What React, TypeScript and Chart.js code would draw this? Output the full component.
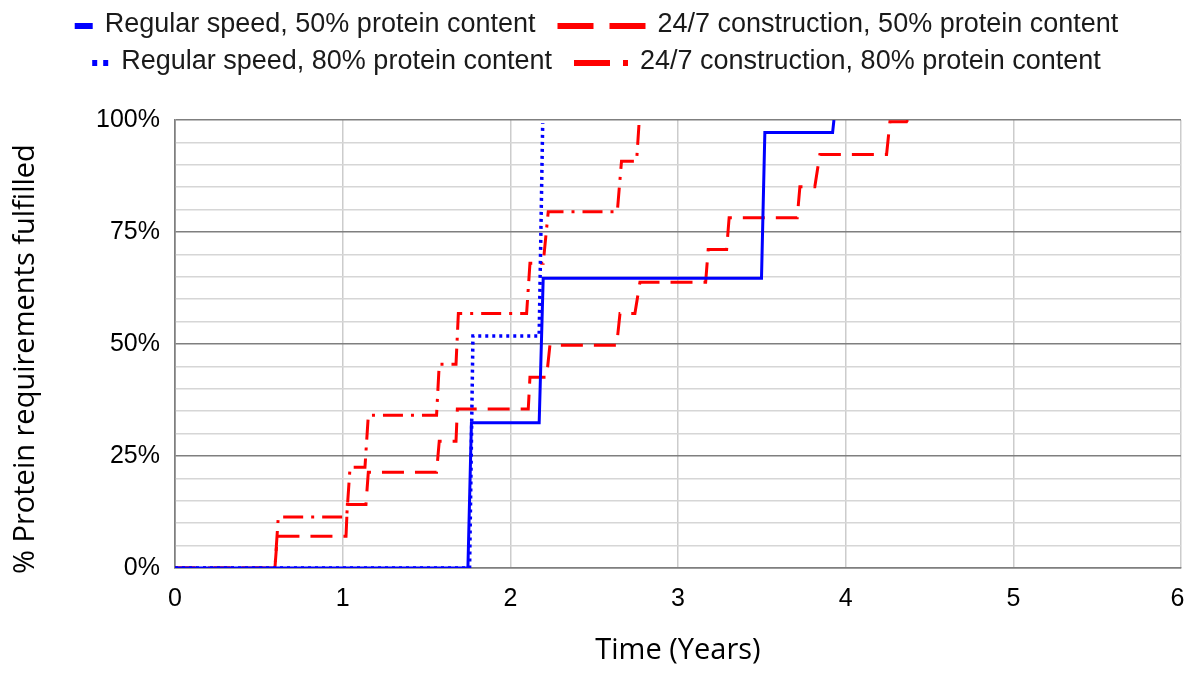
import React, { useEffect, useRef } from "react";
import { Chart, registerables } from "chart.js";

Chart.register(...registerables);

// ---- Data ----
const seriesLabels = [
  "Regular speed, 50% protein content",
  "24/7 construction, 50% protein content",
  "Regular speed, 80% protein content",
  "24/7 construction, 80% protein content",
];

const xTicks = [0, 1, 2, 3, 4, 5, 6];
const xTickLabels = ["0", "1", "2", "3", "4", "5", "6"];
const yTickLabels = ["0%", "25%", "50%", "75%", "100%"];

const regular50X = [0, 1.747, 1.768, 2.172, 2.196, 3.498, 3.518, 3.922, 3.93];
const regular50Y = [0, 0, 32.4, 32.4, 64.7, 64.7, 97.2, 97.2, 100];

const regular80X = [0, 1.757, 1.777, 2.172, 2.193];
const regular80Y = [0, 0, 51.8, 51.8, 99.3];

const c247_50X = [0, 0.596, 0.61, 1.02, 1.028, 1.139, 1.153, 1.56, 1.576, 1.676, 1.684, 2.107, 2.117, 2.216, 2.236, 2.634, 2.654, 2.743, 2.773, 3.165, 3.18, 3.29, 3.305, 3.711, 3.727, 3.816, 3.846, 4.244, 4.264, 4.363, 4.37];
const c247_50Y = [0, 0, 7.1, 7.1, 14.2, 14.2, 21.4, 21.4, 28.3, 28.3, 35.5, 35.5, 42.6, 42.6, 49.7, 49.7, 56.8, 56.8, 63.8, 63.8, 71.1, 71.1, 78.2, 78.2, 85.1, 85.1, 92.3, 92.3, 99.6, 99.6, 100];

const c247_80X = [0, 0.596, 0.616, 1.024, 1.044, 1.133, 1.153, 1.56, 1.576, 1.676, 1.69, 2.097, 2.117, 2.196, 2.226, 2.638, 2.663, 2.753, 2.769];
const c247_80Y = [0, 0, 11.4, 11.4, 22.5, 22.5, 34.1, 34.1, 45.5, 45.5, 56.8, 56.8, 68.0, 68.0, 79.5, 79.5, 90.8, 90.8, 100];

const BLUE = "#0000ff";
const RED = "#ff0000";

const toPoints = (xs: number[], ys: number[]) => xs.map((x, i) => ({ x, y: ys[i] }));

// legend marker styles per dataset index
const legendMarkers: Record<number, { len: number; dash: number[] }> = {
  0: { len: 18, dash: [] },
  1: { len: 88, dash: [36, 16] },
  2: { len: 17, dash: [5, 6] },
  3: { len: 54, dash: [36, 13, 5, 100] },
};

const customLegend = {
  id: "customLegend",
  afterDraw(chart: any) {
    const ctx = chart.ctx as CanvasRenderingContext2D;
    const rows = [
      [0, 1],
      [2, 3],
    ];
    const rowY = [17, 54];
    const gap = 12;
    const sep = 22;
    ctx.save();
    ctx.font = '27px "Liberation Sans", Arial, sans-serif';
    ctx.textBaseline = "middle";
    rows.forEach((row, r) => {
      const widths = row.map((i) => legendMarkers[i].len + gap + ctx.measureText(seriesLabels[i]).width);
      const total = widths.reduce((a, b) => a + b, 0) + sep * (row.length - 1);
      let x = chart.width / 2 - 4 - total / 2;
      row.forEach((i, k) => {
        const ds = chart.data.datasets[i];
        const m = legendMarkers[i];
        ctx.beginPath();
        ctx.strokeStyle = ds.borderColor;
        ctx.lineWidth = 6;
        ctx.lineCap = "butt";
        ctx.setLineDash(m.dash);
        ctx.moveTo(x, rowY[r] + 1);
        ctx.lineTo(x + m.len, rowY[r] + 1);
        ctx.stroke();
        ctx.setLineDash([]);
        ctx.fillStyle = "#1a1a1a";
        ctx.textAlign = "left";
        ctx.fillText(seriesLabels[i], x + m.len + gap, rowY[r]);
        x += widths[k] + sep;
      });
    });
    ctx.restore();
  },
};

export default function App() {
  const canvasRef = useRef<HTMLCanvasElement | null>(null);

  useEffect(() => {
    if (!canvasRef.current) return;
    const chart = new Chart(canvasRef.current, {
      type: "line",
      data: {
        datasets: [
          {
            label: seriesLabels[0],
            data: toPoints(regular50X, regular50Y),
            borderColor: BLUE,
            borderWidth: 3,
            pointRadius: 0,
            order: 0,
          },
          {
            label: seriesLabels[1],
            data: toPoints(c247_50X, c247_50Y),
            borderColor: RED,
            borderWidth: 3,
            borderDash: [22, 11],
            pointRadius: 0,
            order: 2,
          },
          {
            label: seriesLabels[2],
            data: toPoints(regular80X, regular80Y),
            borderColor: BLUE,
            borderWidth: 3.5,
            borderDash: [3, 4],
            pointRadius: 0,
            order: 1,
          },
          {
            label: seriesLabels[3],
            data: toPoints(c247_80X, c247_80Y),
            borderColor: RED,
            borderWidth: 3,
            borderDash: [20, 8, 3, 8],
            pointRadius: 0,
            order: 3,
          },
        ] as any,
      },
      options: {
        animation: false,
        responsive: true,
        maintainAspectRatio: false,
        layout: { padding: { top: 112, right: 12, left: 0, bottom: 0 } },
        plugins: {
          legend: { display: false },
          tooltip: { enabled: false },
        },
        elements: { line: { tension: 0 } },
        scales: {
          x: {
            type: "linear",
            min: 0,
            max: 6,
            afterBuildTicks: (scale: any) => {
              scale.ticks = xTicks.map((v) => ({ value: v }));
            },
            ticks: {
              font: { family: '"Liberation Sans", Arial, sans-serif', size: 25 },
              color: "#000",
              padding: 16,
              callback: (v: any) => {
                const i = xTicks.indexOf(Number(v));
                const lbl = i >= 0 ? xTickLabels[i] : "";
                return i === xTicks.length - 1 ? lbl + " " : lbl;
              },
            },
            grid: {
              drawTicks: false,
              color: (c: any) => (c.tick && c.tick.value === 0 ? "#7f7f7f" : "#cccccc"),
              lineWidth: 1.5,
            },
            border: { display: true, color: "#7f7f7f", width: 1.5 },
            title: {
              display: true,
              text: "Time (Years)",
              font: { family: '"Open Sans", "Noto Sans", sans-serif', size: 29 },
              color: "#000",
              padding: { top: 0, bottom: 18 },
            },
            afterFit: (scale: any) => {
              scale.height = 118;
              scale.paddingRight = 0;
              scale.paddingLeft = 0;
            },
          },
          y: {
            type: "linear",
            min: 0,
            max: 100,
            afterBuildTicks: (scale: any) => {
              const t = [];
              for (let v = 0; v <= 100; v += 5) t.push({ value: v });
              scale.ticks = t;
            },
            ticks: {
              autoSkip: false,
              font: { family: '"Liberation Sans", Arial, sans-serif', size: 25 },
              color: "#000",
              padding: 15,
              callback: (v: any) => {
                const n = Number(v);
                return n % 25 === 0 ? yTickLabels[n / 25] : "";
              },
            },
            grid: {
              drawTicks: false,
              color: (c: any) => (c.tick && c.tick.value % 25 === 0 ? "#7f7f7f" : "#d6d6d6"),
              lineWidth: 1.5,
            },
            border: { display: true, color: "#7f7f7f", width: 1.5 },
            title: {
              display: true,
              text: "% Protein requirements fulfilled    ",
              font: { family: '"Open Sans", "Noto Sans", sans-serif', size: 29 },
              color: "#000",
              padding: { top: 0, bottom: 0 },
            },
            afterFit: (scale: any) => {
              scale.width = 167;
            },
          },
        },
      },
      plugins: [customLegend],
    });
    return () => chart.destroy();
  }, []);

  return (
    <div style={{ width: 1185, height: 678, position: "relative" }}>
      <canvas ref={canvasRef} />
    </div>
  );
}
